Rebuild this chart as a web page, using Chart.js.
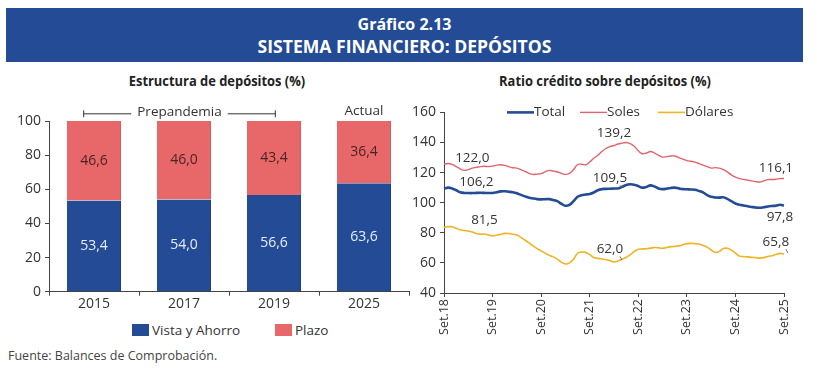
<!DOCTYPE html>
<html>
<head>
<meta charset="utf-8">
<script src="https://cdn.jsdelivr.net/npm/chart.js@4"></script>
<style>
  html,body{margin:0;padding:0;background:#fff;width:817px;height:379px;overflow:hidden;font-family:"Open Sans",sans-serif;}
  #band{position:absolute;left:6px;top:8px;width:797px;height:54px;background:#234b96;color:#fff;text-align:center;font-family:"Open Sans",sans-serif;font-weight:bold;}
  #band .l1{position:absolute;left:0;right:0;top:7px;font-size:16px;line-height:18px;}
  #band .l2{position:absolute;left:0;right:0;top:28px;font-size:18.5px;line-height:20px;transform:scaleX(0.95);}
  .sub{position:absolute;top:71px;font-family:"Open Sans",sans-serif;font-weight:bold;font-size:14.5px;color:#222;text-align:center;transform:scaleX(0.89);}
  #c1{position:absolute;left:0;top:100px;}
  #c2{position:absolute;left:400px;top:100px;}
  .leg{position:absolute;top:321px;font-size:13.5px;color:#333;}
  .sw{display:inline-block;width:17px;height:12px;vertical-align:-1px;margin-right:3px;}
  #src{position:absolute;left:8px;top:347px;font-size:12.5px;color:#444;}
</style>
</head>
<body>
<div id="band"><div class="l1">Gráfico 2.13</div><div class="l2">SISTEMA FINANCIERO: DEPÓSITOS</div></div>
<div class="sub" style="left:87px;width:260px;">Estructura de depósitos (%)</div>
<div class="sub" style="left:470px;width:270px;">Ratio crédito sobre depósitos (%)</div>
<canvas id="c1" width="416" height="215"></canvas>
<canvas id="c2" width="417" height="245"></canvas>
<div class="leg" style="left:132px;"><span class="sw" id="sw1"></span>Vista y Ahorro</div>
<div class="leg" style="left:275px;"><span class="sw" id="sw2"></span>Plazo</div>
<div id="src">Fuente: Balances de Comprobación.</div>
<script>
// ---------- Data: left chart ----------
const barYears = ['2015','2017','2019','2025'];
const vistaAhorro = [53.4, 54.0, 56.6, 63.6];
const plazo = [46.6, 46.0, 43.4, 36.4];
const barSeriesNames = ['Vista y Ahorro','Plazo'];

// ---------- Data: right chart (monthly, Set.18 .. Set.25) ----------
const yearTickLabels = ['Set.18','Set.19','Set.20','Set.21','Set.22','Set.23','Set.24','Set.25'];
const lineSeriesNames = ['Total','Soles','Dólares'];
const totalRatio = [109.4,110,109.5,108.3,107,106.5,106.4,106.4,106.5,106.6,106.5,106.4,
  106.5,107,107.5,107.6,107.3,107,106.3,105.2,104.2,103.3,102.8,102.4,
  102.2,102.3,102.4,101.8,101,99.3,98,98.5,101,104,105,105.4,
  105.8,106.8,108.3,109,109.2,109.3,109.4,109.5,110.5,111.8,112.3,112,
  111,110,110.5,111.5,110.8,109.5,109,109.3,109.8,110,109.5,109,
  108.9,108.8,108.6,107.8,106.8,105,103.9,103.5,103.4,103.6,102.5,101,
  99.5,98.6,98.2,97.6,97.2,96.8,96.6,97,97.5,97.8,98,98.6,98.1];
const solesRatio = [125.5,126,125.5,124,122.5,121.5,122,123,123.5,124,124.2,124,
  124.3,125,125.2,124.8,124,123.2,123,122,120.8,119.5,118.8,119,
  119.3,120.5,121.5,121,120.4,119.5,118.8,119.5,122,125.4,125.5,125.2,
  127,129.5,131.5,134,136,137.2,138,139,139.6,140,139.2,137.5,
  134.5,132.5,133,134,133,131.5,130.3,130.6,131,131,130,129,
  128,127.5,127,126,125,124,123,123.3,123,122,120.5,118.5,
  117,116,115.5,115,114.5,114,113.8,114.5,115.3,115.4,115.6,116,116.1];
const dolaresRatio = [83.6,84,84,83,82,81.5,81.2,80.5,79.5,79,79.2,78.5,
  78,78.4,79,79.6,79.5,79,78.5,77,75.2,73.3,71.3,69.5,
  68,66.5,65,64,62.5,60.5,59.3,60,62.5,66.4,67.2,67,
  65.5,63.6,63,62.6,62.2,61.5,60.6,61.2,62.5,63.6,65.5,67.5,
  69,69.3,69.4,69.8,70.2,70,69.7,70.2,70.8,71,71.3,72,
  72.8,73,72.8,72.5,71.5,70.5,68.6,67,67.5,69.5,69.7,68.5,
  66.5,64.5,64.2,64,63.7,63.5,63.2,63.5,64.3,64.8,65.6,66.3,65.8];
const monthLabels = totalRatio.map((_, i) => i % 12 === 0 ? yearTickLabels[i / 12] : '');
// annotations: [text, month index, value of label anchor, series index for leader line or -1]
const lineNotes = [
  ['122,0', 7, 129.5, -1], ['106,2', 8, 113.8, -1], ['81,5', 10, 88.5, -1],
  ['139,2', 42, 146.5, -1], ['109,5', 41, 116.3, 0], ['62,0', 41, 69, 2],
  ['116,1', 82, 123, -1], ['97,8', 83, 90.3, -1], ['65,8', 82, 73.8, 2]
];

const BLUE = '#234b96', RED = '#e8686a', GOLD = '#f0b323', SOLRED = '#e0636b';
const TXT = '#333';
document.getElementById('sw1').style.background = BLUE;
document.getElementById('sw2').style.background = RED;

// ---------- Left chart ----------
const bracketPlugin = {
  id: 'bracket',
  afterDraw(chart) {
    const {ctx, scales: {x, y}} = chart;
    ctx.save();
    const yy = y.getPixelForValue(104.5);
    const x0 = x.getPixelForValue(-0.12), x1 = x.getPixelForValue(2.02);
    const xm = x.getPixelForValue(0.95);
    ctx.font = '13.5px "Open Sans"';
    ctx.fillStyle = TXT; ctx.textAlign = 'center'; ctx.textBaseline = 'middle';
    const tw = ctx.measureText('Prepandemia').width;
    ctx.fillText('Prepandemia', xm, yy - 1);
    ctx.strokeStyle = '#333'; ctx.lineWidth = 1;
    ctx.beginPath();
    ctx.moveTo(x0, yy + 0.5); ctx.lineTo(xm - tw / 2 - 6, yy + 0.5);
    ctx.moveTo(xm + tw / 2 + 6, yy + 0.5); ctx.lineTo(x1, yy + 0.5);
    ctx.moveTo(x0 + 0.5, yy - 3); ctx.lineTo(x0 + 0.5, yy + 4);
    ctx.moveTo(x1 - 0.5, yy - 3); ctx.lineTo(x1 - 0.5, yy + 4);
    ctx.stroke();
    ctx.fillText('Actual', x.getPixelForValue(3), y.getPixelForValue(105.5));
    // bar value labels
    chart.data.datasets.forEach((ds, di) => {
      const meta = chart.getDatasetMeta(di);
      meta.data.forEach((bar, i) => {
        ctx.fillStyle = di === 0 ? '#e8eefa' : '#4a2323';
        ctx.font = '14px "Open Sans"';
        ctx.fillText(ds.data[i].toFixed(1).replace('.', ','), bar.x, (bar.y + bar.base) / 2);
      });
    });
    ctx.restore();
  }
};

new Chart(document.getElementById('c1'), {
  type: 'bar',
  data: {
    labels: barYears,
    datasets: [
      {label: barSeriesNames[0], data: vistaAhorro, backgroundColor: BLUE, borderColor: '#1c3f83', borderWidth: {right: 1}},
      {label: barSeriesNames[1], data: plazo, backgroundColor: RED, borderColor: '#d85c5e', borderWidth: {right: 1}}
    ]
  },
  options: {
    responsive: false, animation: false,
    layout: {padding: {top: 21, right: 7, left: 0, bottom: 0}},
    plugins: {legend: {display: false}, tooltip: {enabled: false}},
    datasets: {bar: {categoryPercentage: 1, barPercentage: 0.6}},
    scales: {
      x: {
        stacked: true,
        grid: {offset: true, drawOnChartArea: false, drawTicks: true, tickLength: 4, color: '#444'},
        border: {color: '#444', width: 1},
        ticks: {color: TXT, font: {family: 'Open Sans', size: 14}, padding: 0},
        afterFit(s) { s.height = 23.3; }
      },
      y: {
        stacked: true, min: 0, max: 100,
        grid: {drawOnChartArea: false, drawTicks: true, tickLength: 4, color: '#444'},
        border: {color: '#444', width: 1},
        ticks: {stepSize: 20, color: TXT, font: {family: 'Open Sans', size: 14}, padding: 4},
        afterFit(s) { s.width = 49; }
      }
    }
  },
  plugins: [bracketPlugin]
});

// ---------- Right chart ----------
const notesPlugin = {
  id: 'notes',
  afterDraw(chart) {
    const {ctx, scales: {x, y}} = chart;
    ctx.save();
    ctx.font = '13.5px "Open Sans"'; ctx.fillStyle = TXT;
    ctx.textAlign = 'center'; ctx.textBaseline = 'middle';
    lineNotes.forEach(([t, idx, v, si]) => {
      const px = x.getPixelForValue(idx), py = y.getPixelForValue(v);
      ctx.fillText(t, px, py);
      if (si >= 0) {
        const ds = chart.data.datasets[si].data;
        const tx = px + 12, ty = y.getPixelForValue(ds[Math.min(idx + 2, ds.length - 1)]);
        ctx.strokeStyle = '#555'; ctx.lineWidth = 0.8;
        ctx.beginPath(); ctx.moveTo(tx - 2, py + 7); ctx.lineTo(tx, ty - 1); ctx.stroke();
      }
    });
    // legend
    const items = chart.data.datasets;
    const lx = [107, 180, 258];
    const ly = y.getPixelForValue(160);
    items.forEach((ds, i) => {
      const sx = chart.chartArea.left + lx[i] - 44;
      ctx.strokeStyle = ds.borderColor; ctx.lineWidth = ds.borderWidth;
      ctx.beginPath(); ctx.moveTo(sx, ly); ctx.lineTo(sx + 27, ly); ctx.stroke();
      ctx.textAlign = 'left'; ctx.fillStyle = TXT;
      ctx.fillText(ds.label, sx + 27, ly);
    });
    ctx.restore();
  }
};

new Chart(document.getElementById('c2'), {
  type: 'line',
  data: {
    labels: monthLabels,
    datasets: [
      {label: lineSeriesNames[0], data: totalRatio, borderColor: BLUE, borderWidth: 2.6},
      {label: lineSeriesNames[1], data: solesRatio, borderColor: SOLRED, borderWidth: 1.4},
      {label: lineSeriesNames[2], data: dolaresRatio, borderColor: GOLD, borderWidth: 1.6}
    ]
  },
  options: {
    responsive: false, animation: false,
    layout: {padding: {top: 11.7, right: 33, left: 0, bottom: 0}},
    elements: {point: {radius: 0}, line: {tension: 0.4}},
    plugins: {legend: {display: false}, tooltip: {enabled: false}},
    scales: {
      x: {
        offset: false,
        grid: {drawOnChartArea: false, drawTicks: true, tickLength: 4,
               color: c => (c.index % 12 === 0 ? '#444' : 'rgba(0,0,0,0)')},
        border: {color: '#444', width: 1},
        ticks: {autoSkip: false, maxRotation: 90, minRotation: 90, color: TXT,
                font: {family: 'Open Sans', size: 12.5}, padding: 2},
        afterFit(s) { s.height = 52; }
      },
      y: {
        min: 40, max: 160,
        grid: {drawOnChartArea: false, drawTicks: true, tickLength: 4, color: '#444'},
        border: {color: '#444', width: 1},
        ticks: {stepSize: 20, color: TXT, font: {family: 'Open Sans', size: 14}, padding: 4},
        afterFit(s) { s.width = 44; }
      }
    }
  },
  plugins: [notesPlugin]
});
</script>
</body>
</html>
